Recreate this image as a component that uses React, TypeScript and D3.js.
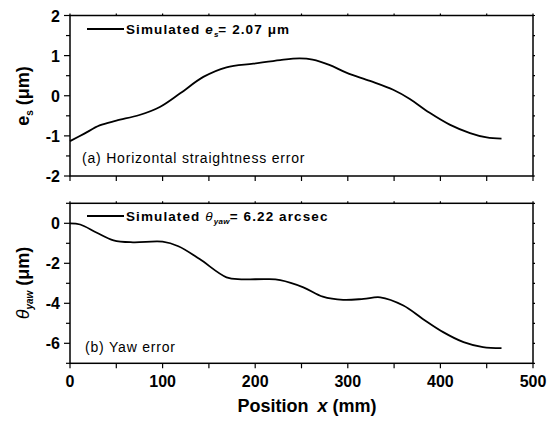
import React from "react";
import * as d3 from "d3";

const xsA = [0, 15, 32, 50, 75, 97, 119, 144, 169, 198, 227, 248, 262, 280, 299, 324, 349, 367, 388, 410, 432, 450, 466];
const ysA = [-1.13, -0.95, -0.74, -0.62, -0.48, -0.28, 0.06, 0.47, 0.71, 0.8, 0.89, 0.93, 0.9, 0.77, 0.57, 0.37, 0.15, -0.08, -0.42, -0.72, -0.93, -1.04, -1.07];

const xsB = [0, 11, 29, 47, 68, 100, 117, 140, 169, 185, 212, 227, 252, 273, 295, 317, 335, 360, 381, 403, 425, 446, 466];
const ysB = [0, -0.06, -0.47, -0.85, -0.95, -0.92, -1.15, -1.79, -2.7, -2.8, -2.79, -2.84, -3.2, -3.67, -3.83, -3.78, -3.7, -4.11, -4.78, -5.44, -5.94, -6.19, -6.24];

const xTicks = [0, 100, 200, 300, 400, 500];
const yTicksA = [2, 1, 0, -1, -2];
const yTicksB = [0, -2, -4, -6];

const W = 551, H = 421;
const L = 70, R = 533;
const FONT = "'Liberation Sans', Arial, sans-serif";

function Panel({ top, bottom, domain, xs, ys, majors, minorStep, showXLabels }: any) {
  const x = d3.scaleLinear().domain([0, 500]).range([L, R]);
  const y = d3.scaleLinear().domain(domain).range([bottom, top]);
  const line = d3.line<number>().x((_, i) => x(xs[i])).y((d) => y(d)).curve(d3.curveCatmullRom.alpha(0.5));
  const xMinor = d3.range(0, 501, 50);
  const yAll = d3.range(domain[0], domain[1] + 1e-9, minorStep);
  return (
    <g>
      <rect x={L} y={top} width={R - L} height={bottom - top} fill="none" stroke="#000" strokeWidth={1.5} />
      {xMinor.map((v) => (
        <g key={"xt" + v}>
          <line x1={x(v)} x2={x(v)} y1={bottom} y2={bottom + 5} stroke="#000" strokeWidth={1.2} />
          <line x1={x(v)} x2={x(v)} y1={top} y2={top - 2} stroke="#000" strokeWidth={1.2} />
        </g>
      ))}
      {yAll.map((v: number) => {
        const isMajor = majors.some((m: number) => Math.abs(m - v) < 1e-6);
        return (
          <g key={"yt" + v}>
            <line x1={L} x2={L - (isMajor ? 6 : 4)} y1={y(v)} y2={y(v)} stroke="#000" strokeWidth={1.2} />
            <line x1={R} x2={R + 2} y1={y(v)} y2={y(v)} stroke="#000" strokeWidth={1.2} />
          </g>
        );
      })}
      {majors.map((v: number) => (
        <text key={"yl" + v} x={L - 10} y={y(v) + 6} textAnchor="end" fontFamily={FONT} fontWeight="bold" fontSize={16}>
          {v}
        </text>
      ))}
      {showXLabels &&
        xTicks.map((v) => (
          <text key={"xl" + v} x={x(v)} y={bottom + 24} textAnchor="middle" fontFamily={FONT} fontWeight="bold" fontSize={16}>
            {v}
          </text>
        ))}
      <path d={line(ys) || ""} fill="none" stroke="#000" strokeWidth={1.8} />
    </g>
  );
}

export default function App() {
  return (
    <svg width={W} height={H} style={{ display: "block", position: "absolute", left: 0, top: 0, background: "#fff" }}>
      <rect width={W} height={H} fill="#fff" />
      <Panel top={15.5} bottom={176} domain={[-2, 2]} xs={xsA} ys={ysA} majors={yTicksA} minorStep={0.5} showXLabels={false} />
      <Panel top={203.3} bottom={363.3} domain={[-7, 1]} xs={xsB} ys={ysB} majors={yTicksB} minorStep={1} showXLabels={true} />

      <line x1={87} x2={124} y1={29} y2={29} stroke="#000" strokeWidth={1.8} />
      <text x={126} y={34} fontFamily={FONT} fontWeight="bold" fontSize={13.5} letterSpacing={1.1}>
        Simulated <tspan fontStyle="italic">e</tspan>
        <tspan fontStyle="italic" fontSize={8} dy={3} letterSpacing={0}>s</tspan>
        <tspan dy={-3}>= 2.07 μm</tspan>
      </text>
      <text x={82} y={163} fontFamily={FONT} fontSize={14} letterSpacing={0.8}>
        (a) Horizontal straightness error
      </text>

      <line x1={87} x2={124} y1={216} y2={216} stroke="#000" strokeWidth={1.8} />
      <text x={126} y={221} fontFamily={FONT} fontWeight="bold" fontSize={13.5} letterSpacing={1.1}>
        Simulated <tspan fontStyle="italic" fontWeight="normal">θ</tspan>
        <tspan fontStyle="italic" fontSize={8} dy={3} letterSpacing={0.3}>yaw</tspan>
        <tspan dy={-3}>= 6.22 arcsec</tspan>
      </text>
      <text x={85} y={352} fontFamily={FONT} fontSize={14} letterSpacing={0.8}>
        (b) Yaw error
      </text>

      <text transform="translate(29,96) rotate(-90)" textAnchor="middle" fontFamily={FONT} fontWeight="bold" fontSize={18}>
        e<tspan fontSize={10} dy={4}>s</tspan>
        <tspan dy={-4}> (μm)</tspan>
      </text>
      <text transform="translate(29,283) rotate(-90)" textAnchor="middle" fontFamily={FONT} fontWeight="bold" fontSize={18}>
        <tspan fontStyle="italic" fontWeight="normal">θ</tspan>
        <tspan fontStyle="italic" fontSize={10} dy={4}>yaw</tspan>
        <tspan dy={-4}> (μm)</tspan>
      </text>

      <text x={307} y={412} textAnchor="middle" fontFamily={FONT} fontWeight="bold" fontSize={18}>
        Position<tspan dx={9} fontStyle="italic">x</tspan> (mm)
      </text>
    </svg>
  );
}
